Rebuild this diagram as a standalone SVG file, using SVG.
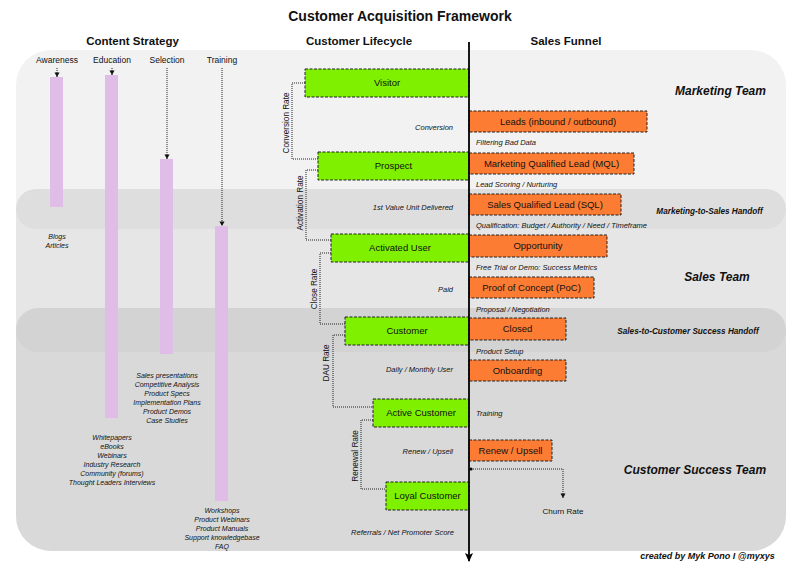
<svg xmlns="http://www.w3.org/2000/svg" width="800" height="568" viewBox="0 0 800 568">
<defs>
<marker id="arr" markerUnits="userSpaceOnUse" markerWidth="6" markerHeight="6" refX="5.5" refY="3" orient="auto" viewBox="0 0 6 6">
<path d="M1,0.5 L5.5,3 L1,5.5 Z" fill="#111"/>
</marker>
<marker id="big" markerUnits="userSpaceOnUse" markerWidth="10" markerHeight="10" refX="8" refY="5" orient="auto" viewBox="0 0 10 10">
<path d="M0,1 L9,5 L0,9 L2,5 Z" fill="#000"/>
</marker>
<style>
text{font-family:"Liberation Sans",Arial,sans-serif;fill:#111}
.title{font-size:14px;font-weight:bold;text-anchor:middle}
.hdr{font-size:11.5px;font-weight:bold;text-anchor:middle}
.sub{font-size:8.5px;text-anchor:middle}
.list{font-size:7px;font-style:italic;text-anchor:middle}
.box{font-size:9.5px;text-anchor:middle}
.it{font-size:7.5px;font-style:italic}
.itr{font-size:7.5px;font-style:italic;text-anchor:end}
.rate{font-size:8.2px;text-anchor:middle}
.team{font-size:12px;font-weight:bold;font-style:italic;text-anchor:middle}
.hand{font-size:8.2px;font-weight:bold;font-style:italic;text-anchor:middle}
.green{fill:#7ef000;stroke:#222;stroke-width:1;stroke-dasharray:3 1.5}
.orange{fill:#fd7c33;stroke:#222;stroke-width:1;stroke-dasharray:3 1.5}
.bar{fill:#e0bde6}
.dot{fill:none;stroke:#222;stroke-width:1;stroke-dasharray:1 1}
</style>
</defs>
<rect width="800" height="568" fill="#fff"/>
<g id="background">
<path d="M16,85 A35,35 0 0 1 51,50 H751 A35,35 0 0 1 786,85 V516 A35,35 0 0 1 751,551 H51 A35,35 0 0 1 16,516 Z" fill="#f2f2f2"/>
<rect x="16" y="209" width="770" height="121" fill="#e6e6e6"/>
<path d="M16,330 H786 V516 A35,35 0 0 1 751,551 H51 A35,35 0 0 1 16,516 Z" fill="#d9d9d9"/>
<rect x="16" y="189" width="770" height="40" rx="20" fill="#dedede"/>
<rect x="16" y="308" width="770" height="44" rx="22" fill="#d3d3d3"/>
</g>
<text class="title" x="400" y="21">Customer Acquisition Framework</text>
<text class="hdr" x="132.5" y="45">Content Strategy</text>
<text class="hdr" x="359" y="45">Customer Lifecycle</text>
<text class="hdr" x="566" y="45">Sales Funnel</text>
<g id="content-strategy">
<g id="awareness">
<text class="sub" x="57" y="63">Awareness</text>
<rect class="bar" x="50" y="77" width="13" height="130"/>
<text class="list" x="57" y="238.5">Blogs</text>
<text class="list" x="57" y="247.5">Articles</text>
</g>
<g id="education">
<text class="sub" x="112" y="63">Education</text>
<rect class="bar" x="105" y="75" width="13" height="343"/>
<text class="list" x="112" y="439.5">Whitepapers</text>
<text class="list" x="112" y="448.5">eBooks</text>
<text class="list" x="112" y="457.5">Webinars</text>
<text class="list" x="112" y="466.5">Industry Research</text>
<text class="list" x="112" y="475.5">Community (forums)</text>
<text class="list" x="112" y="484.5">Thought Leaders Interviews</text>
</g>
<g id="selection">
<text class="sub" x="167" y="63">Selection</text>
<rect class="bar" x="160" y="159" width="13" height="195"/>
<text class="list" x="167" y="377.5">Sales presentations</text>
<text class="list" x="167" y="386.5">Competitive Analysis</text>
<text class="list" x="167" y="395.5">Product Specs</text>
<text class="list" x="167" y="404.5">Implementation Plans</text>
<text class="list" x="167" y="413.5">Product Demos</text>
<text class="list" x="167" y="422.5">Case Studies</text>
</g>
<g id="training">
<text class="sub" x="222" y="63">Training</text>
<rect class="bar" x="215" y="226" width="13" height="275"/>
<text class="list" x="222" y="512.5">Workshops</text>
<text class="list" x="222" y="521.5">Product Webinars</text>
<text class="list" x="222" y="530.5">Product Manuals</text>
<text class="list" x="222" y="539.5">Support knowledgebase</text>
<text class="list" x="222" y="548.5">FAQ</text>
</g>
</g>
<g id="visitor"><rect class="green" x="305" y="69" width="164" height="28"/><text class="box" x="387" y="86.3">Visitor</text></g>
<g id="prospect"><rect class="green" x="318" y="152" width="151" height="28"/><text class="box" x="393.5" y="169.3">Prospect</text></g>
<g id="activated-user"><rect class="green" x="331" y="234" width="138" height="28"/><text class="box" x="400" y="251.3">Activated User</text></g>
<g id="customer"><rect class="green" x="345" y="317" width="124" height="28"/><text class="box" x="407" y="334.3">Customer</text></g>
<g id="active-customer"><rect class="green" x="373" y="399" width="96" height="28"/><text class="box" x="421" y="416.3">Active Customer</text></g>
<g id="loyal-customer"><rect class="green" x="386" y="482" width="83" height="28"/><text class="box" x="427.5" y="499.3">Loyal Customer</text></g>
<g id="leads"><rect class="orange" x="469" y="111" width="178" height="21"/><text class="box" x="558" y="124.8">Leads (inbound / outbound)</text></g>
<g id="mql"><rect class="orange" x="469" y="153" width="165" height="21"/><text class="box" x="551.5" y="166.8">Marketing Qualified Lead (MQL)</text></g>
<g id="sql"><rect class="orange" x="469" y="194" width="152" height="21"/><text class="box" x="545" y="207.8">Sales Qualified Lead (SQL)</text></g>
<g id="opportunity"><rect class="orange" x="469" y="235" width="138" height="22"/><text class="box" x="538" y="249.3">Opportunity</text></g>
<g id="poc"><rect class="orange" x="469" y="277" width="125" height="21"/><text class="box" x="531.5" y="290.8">Proof of Concept (PoC)</text></g>
<g id="closed"><rect class="orange" x="469" y="318" width="97" height="22"/><text class="box" x="517.5" y="332.3">Closed</text></g>
<g id="onboarding"><rect class="orange" x="469" y="360" width="97" height="21"/><text class="box" x="517.5" y="373.8">Onboarding</text></g>
<g id="renew-upsell"><rect class="orange" x="469" y="440" width="83" height="21"/><text class="box" x="510.5" y="453.8">Renew / Upsell</text></g>
<g id="churn-rate"><text x="563" y="514" style="font-size:8px;text-anchor:middle">Churn Rate</text></g>
<g id="connectors">
<path class="dot" d="M57,68 V77" marker-end="url(#arr)"/>
<path class="dot" d="M112,68 V75" marker-end="url(#arr)"/>
<path class="dot" d="M167,68 V159" marker-end="url(#arr)"/>
<path class="dot" d="M222,68 V226" marker-end="url(#arr)"/>
<path class="dot" d="M305,83 H292 V159 H318"/>
<path class="dot" d="M318,170 H306 V240 H331"/>
<path class="dot" d="M331,253 H320 V324 H345"/>
<path class="dot" d="M345,335 H333 V407 H373"/>
<path class="dot" d="M373,420 H361 V489 H386"/>
<text class="rate" transform="translate(289,123) rotate(-90)">Conversion Rate</text>
<text class="rate" transform="translate(303,203) rotate(-90)">Activation Rate</text>
<text class="rate" transform="translate(317,289) rotate(-90)">Close Rate</text>
<text class="rate" transform="translate(329,363) rotate(-90)">DAU Rate</text>
<text class="rate" transform="translate(358,456) rotate(-90)">Renewal Rate</text>
<path d="M469,42 V561" stroke="#000" stroke-width="1.8" fill="none" marker-end="url(#big)"/>
<circle cx="471" cy="469" r="1.6" fill="#000"/>
<path class="dot" d="M471,469 H563 V498" marker-end="url(#arr)"/>
<text class="itr" x="453" y="129.5">Conversion</text>
<text class="itr" x="453" y="209.5">1st Value Unit Delivered</text>
<text class="itr" x="453" y="291.5">Paid</text>
<text class="itr" x="453" y="371.5">Daily / Monthly User</text>
<text class="itr" x="453" y="453.5">Renew / Upsell</text>
<text class="itr" x="454" y="534.5">Referrals / Net Promoter Score</text>
<text class="it" x="476" y="144.5">Filtering Bad Data</text>
<text class="it" x="476" y="186.5">Lead Scoring / Nurturing</text>
<text class="it" x="476" y="227.5">Qualification: Budget / Authority / Need / Timeframe</text>
<text class="it" x="476" y="269.5">Free Trial or Demo: Success Metrics</text>
<text class="it" x="476" y="311.5">Proposal / Negotiation</text>
<text class="it" x="476" y="353.5">Product Setup</text>
<text class="it" x="476" y="415.5">Training</text>
</g>
<g id="teams">
<text class="team" x="720.5" y="95.2">Marketing Team</text>
<text class="hand" x="709.5" y="214">Marketing-to-Sales Handoff</text>
<text class="team" x="717" y="281.2">Sales Team</text>
<text class="hand" x="688" y="334">Sales-to-Customer Success Handoff</text>
<text class="team" x="695" y="474.2">Customer Success Team</text>
<text class="hand" x="707.5" y="559" style="font-size:9px">created by Myk Pono I @myxys</text>
</g>
</svg>
